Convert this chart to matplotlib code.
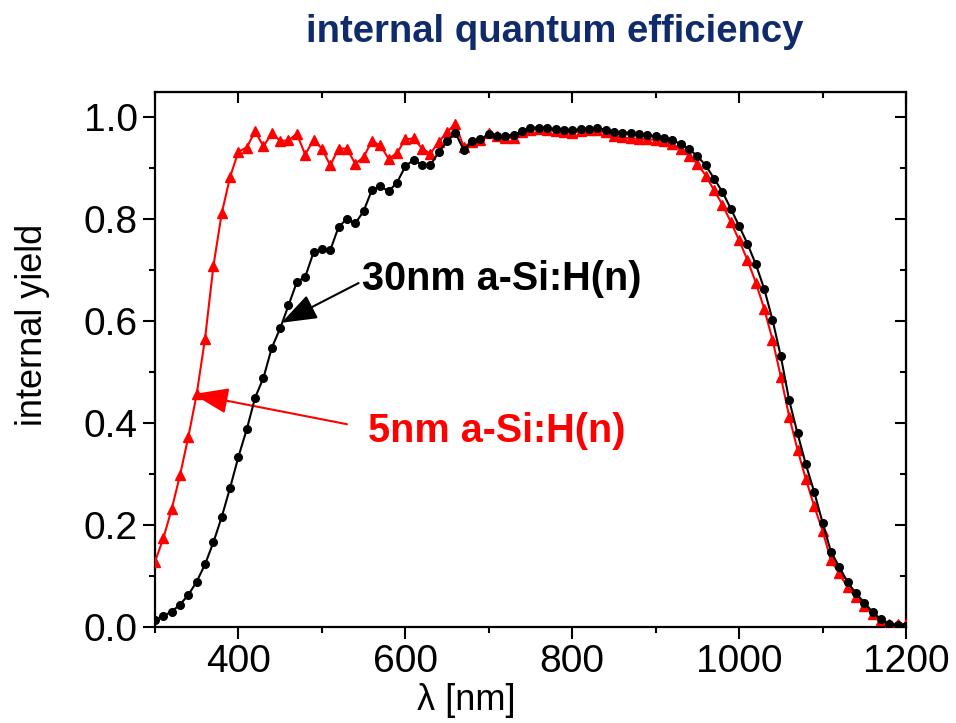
import matplotlib
matplotlib.use("Agg")
import matplotlib.pyplot as plt
import numpy as np

plt.rcParams['font.family'] = ['Liberation Sans', 'DejaVu Sans']

# wavelength grid [nm]
wl = np.arange(300, 1201, 10)

# 30nm a-Si:H(n) emitter
iqe_30nm = [0.014, 0.022, 0.030, 0.044, 0.063, 0.089, 0.123, 0.166, 0.216, 0.273,
            0.334, 0.388, 0.450, 0.489, 0.548, 0.586, 0.631, 0.677, 0.687, 0.735,
            0.741, 0.739, 0.785, 0.801, 0.792, 0.816, 0.858, 0.865, 0.855, 0.872,
            0.904, 0.917, 0.907, 0.906, 0.932, 0.953, 0.970, 0.936, 0.953, 0.957,
            0.967, 0.964, 0.964, 0.966, 0.973, 0.980, 0.980, 0.980, 0.977, 0.976,
            0.975, 0.977, 0.978, 0.979, 0.976, 0.971, 0.970, 0.970, 0.967, 0.965,
            0.963, 0.960, 0.955, 0.948, 0.938, 0.924, 0.906, 0.880, 0.854, 0.821,
            0.787, 0.752, 0.712, 0.664, 0.603, 0.531, 0.445, 0.380, 0.319, 0.265,
            0.205, 0.148, 0.118, 0.088, 0.066, 0.048, 0.029, 0.015, 0.005, 0.003,
            0.002]

# 5nm a-Si:H(n) emitter
iqe_5nm = [0.128, 0.174, 0.231, 0.298, 0.373, 0.457, 0.566, 0.708, 0.812, 0.883,
           0.933, 0.941, 0.973, 0.943, 0.969, 0.954, 0.955, 0.968, 0.927, 0.956,
           0.939, 0.906, 0.939, 0.939, 0.909, 0.922, 0.954, 0.945, 0.919, 0.930,
           0.957, 0.959, 0.939, 0.929, 0.952, 0.971, 0.988, 0.942, 0.952, 0.956,
           0.969, 0.963, 0.960, 0.960, 0.971, 0.976, 0.978, 0.976, 0.973, 0.971,
           0.970, 0.973, 0.975, 0.975, 0.971, 0.963, 0.961, 0.959, 0.958, 0.957,
           0.956, 0.953, 0.948, 0.938, 0.925, 0.909, 0.886, 0.857, 0.829, 0.795,
           0.759, 0.720, 0.676, 0.625, 0.564, 0.491, 0.413, 0.348, 0.290, 0.237,
           0.189, 0.131, 0.105, 0.078, 0.058, 0.041, 0.025, 0.014, 0.006, 0.006,
           0.006]

fig = plt.figure(figsize=(9.56, 7.23), dpi=100)
ax = fig.add_axes([0.1621, 0.1328, 0.7856, 0.74])

ax.plot(wl, iqe_5nm, color='#ff0000', lw=1.5, marker='^', ms=6.5, mec='#ff0000', zorder=3)
ax.plot(wl, iqe_30nm, color='black', lw=1.5, marker='o', ms=5.5, zorder=4)

major_x = [400, 600, 800, 1000, 1200]
minor_x = [300, 500, 700, 900, 1100]
major_y = [0.0, 0.2, 0.4, 0.6, 0.8, 1.0]
minor_y = [0.1, 0.3, 0.5, 0.7, 0.9]

ax.set_xlim(300, 1200)
ax.set_ylim(0, 1.05)
ax.set_xticks(major_x)
ax.set_xticks(minor_x, minor=True)
ax.set_yticks(major_y)
ax.set_yticks(minor_y, minor=True)
ax.yaxis.set_major_formatter(matplotlib.ticker.FormatStrFormatter('%.1f'))

for s in ax.spines.values():
    s.set_linewidth(1.6)
ax.tick_params(which='major', direction='out', length=8.5, width=1.5, labelsize=28, pad=4)
ax.tick_params(which='minor', direction='out', length=4.5, width=1.5)

# top / right ticks point inwards
top = ax.secondary_xaxis('top')
top.set_xticks(major_x)
top.set_xticks(minor_x, minor=True)
top.tick_params(which='major', direction='in', length=8, width=1.5, labeltop=False)
top.tick_params(which='minor', direction='in', length=4.5, width=1.5)
right = ax.secondary_yaxis('right')
right.set_yticks(major_y)
right.set_yticks(minor_y, minor=True)
right.tick_params(which='major', direction='in', length=8, width=1.5, labelright=False)
right.tick_params(which='minor', direction='in', length=4.5, width=1.5)

ax.set_xlabel('λ [nm]', fontsize=26)
ax.xaxis.set_label_coords(0.414, -0.105)
ax.set_ylabel('internal yield', fontsize=26)
ax.yaxis.set_label_coords(-0.14, 0.564)

# curve labels with arrows
ax.annotate('', xy=(451.5, 0.597), xytext=(544, 0.675),
            arrowprops=dict(arrowstyle='-|>,head_length=1.1,head_width=0.4',
                            mutation_scale=20, color='black', lw=1.5,
                            shrinkA=0, shrinkB=0))
ax.text(548, 0.661, '30nm a-Si:H(n)', fontsize=28.5, fontweight='bold',
        color='black', ha='left', va='baseline')
ax.annotate('', xy=(345.5, 0.457), xytext=(530, 0.398),
            arrowprops=dict(arrowstyle='-|>,head_length=1.1,head_width=0.4',
                            mutation_scale=20, color='#ff0000', lw=1.5,
                            shrinkA=0, shrinkB=0))
ax.text(555, 0.363, '5nm a-Si:H(n)', fontsize=28.5, fontweight='bold',
        color='#ff0000', ha='left', va='baseline')

fig.text(555 / 956, 1 - 42 / 723, 'internal quantum efficiency', fontsize=27.5,
         fontweight='bold', color='#0f2b6b', ha='center', va='baseline')

fig.savefig('out.png', dpi=100)
